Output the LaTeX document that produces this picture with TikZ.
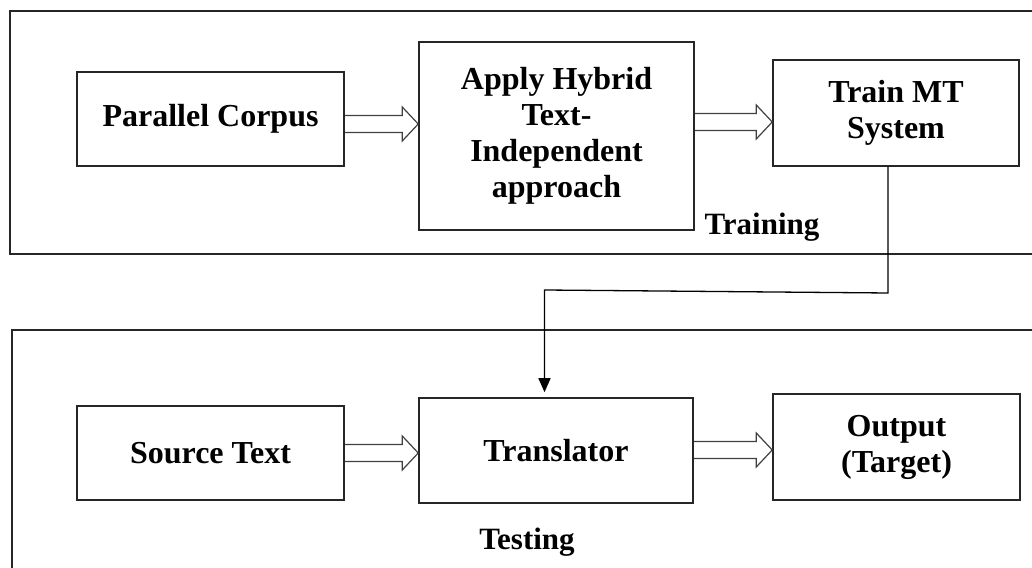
\documentclass[tikz,border=0pt]{standalone}
\usepackage{fontspec}
\setmainfont{Liberation Serif}
\usetikzlibrary{arrows.meta,calc}

% hollow block arrow between two named nodes, centred at height #3 (pt)
\newcommand\hollowconn[3]{%
  \draw[hollow] let \p1=(#1.east), \p2=(#2.west) in
    (\x1,#3pt+8.5pt) -- (\x2-16pt,#3pt+8.5pt) -- (\x2-16pt,#3pt+17pt)
    -- (\x2,#3pt) -- (\x2-16pt,#3pt-17pt) -- (\x2-16pt,#3pt-8.5pt)
    -- (\x1,#3pt-8.5pt);}

\begin{document}
\begin{tikzpicture}[x=1pt,y=1pt,
  stage/.style={draw=black!85, line width=1.5pt},
  block/.style={draw=black!85, line width=1.5pt, inner sep=0pt, align=center,
    font=\fontsize{32}{36}\selectfont\bfseries},
  lbl/.style={font=\fontsize{31}{36}\selectfont\bfseries, inner sep=0pt},
  hollow/.style={draw=black!75, line width=1.2pt, line join=miter},
  link/.style={draw=black, line width=1.3pt, -{Triangle[width=12pt,length=14pt]}}]
\useasboundingbox (0,0) rectangle (1032,567);
\clip (0,0) rectangle (1032,567);

% stage frames
\draw[stage] (10,313) rectangle (1050,556);
\draw[stage] (12,-20) rectangle (1050,237);

% training stage
\node[block, minimum width=267pt, minimum height=94pt] (pc) at (210.5,448) {Parallel Corpus};
\node[block, minimum width=275pt, minimum height=188pt] (ap) at (556.5,431)
  {Apply Hybrid\\Text-\\Independent\\approach};
\node[block, minimum width=246pt, minimum height=106pt] (tm) at (896,454) {Train MT\\System};
\node[lbl, anchor=base] (trainlbl) at (762,332) {Training};

% testing stage
\node[block, minimum width=267pt, minimum height=94pt] (st) at (210.5,114) {Source Text};
\node[block, minimum width=274pt, minimum height=105pt] (tr) at (556,116.5) {Translator};
\node[block, minimum width=247pt, minimum height=106pt] (out) at (896.5,120) {Output\\(Target)};
\node[lbl, anchor=base] (testlbl) at (527,18) {Testing};

% block arrows
\hollowconn{pc}{ap}{443}
\hollowconn{ap}{tm}{445}
\hollowconn{st}{tr}{114}
\hollowconn{tr}{out}{117}

% trained system feeds the translator
\coordinate (j1) at (888,274);
\coordinate (j2) at (544.5,277);
\draw[link] ([xshift=-8pt]tm.south) -- (j1) -- (j2) -- ([xshift=-11.5pt,yshift=5pt]tr.north);
\end{tikzpicture}
\end{document}
